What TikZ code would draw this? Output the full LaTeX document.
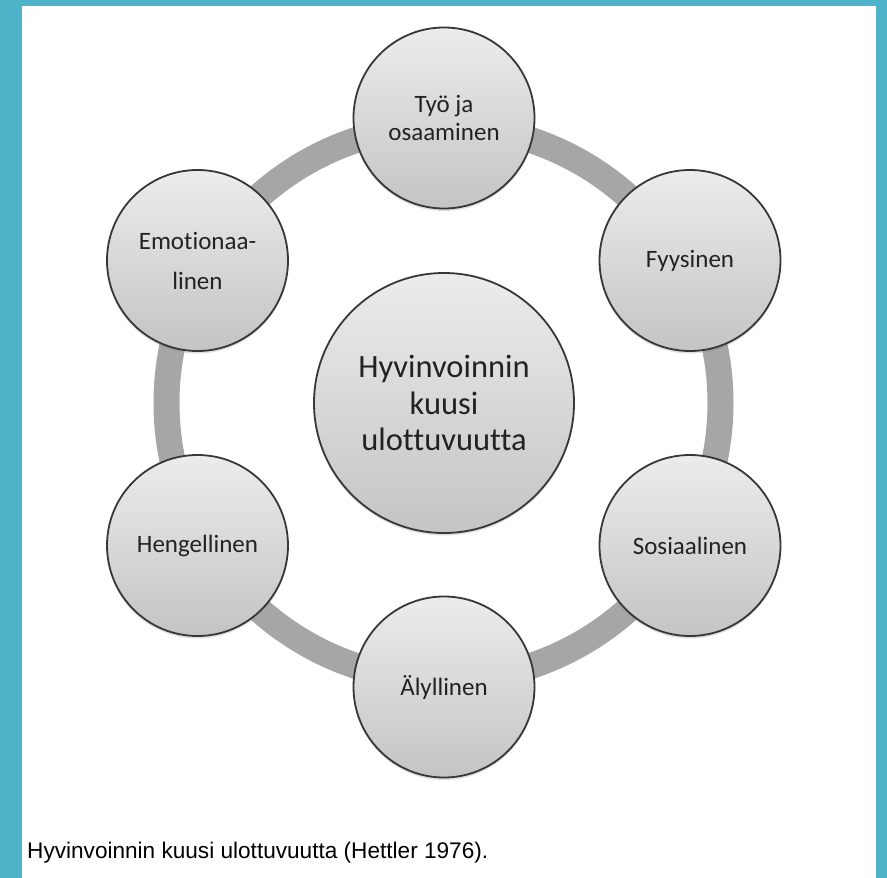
\documentclass[tikz,border=0pt]{standalone}
\usepackage{fontspec}
\setmainfont{Carlito}[Ligatures={NoCommon}]
\newfontfamily\capfont{Liberation Sans}
\usetikzlibrary{shadows}
\definecolor{framecol}{RGB}{78,179,200}
\definecolor{ringgray}{RGB}{166,166,166}
\definecolor{topg}{RGB}{236,236,236}
\definecolor{botg}{RGB}{196,196,196}
\definecolor{edgeg}{RGB}{55,55,55}
\definecolor{txt}{RGB}{34,34,34}
\tikzset{
  bubble/.style={circle, draw=edgeg, line width=1.8pt, top color=topg, bottom color=botg,
    minimum size=181pt, inner sep=0pt, align=center, text=txt,
    font=\fontsize{25}{27.5}\selectfont,
    drop shadow={opacity=0.25, shadow xshift=0pt, shadow yshift=-2.5pt}},
  hubbubble/.style={bubble, minimum size=260pt, font=\fontsize{32.5}{36.5}\selectfont},
  ringline/.style={draw=ringgray, line width=26pt},
  caption/.style={anchor=base west, inner sep=0pt, font=\capfont\fontsize{22.6}{27}\selectfont, text=black}
}
\begin{document}
\begin{tikzpicture}[x=1pt,y=-1pt]
  \useasboundingbox (0,0) rectangle (887,878);
  \fill[framecol] (0,0) rectangle (887,878);
  \fill[white] (22,6) rectangle (876,878);
  \coordinate (ringc) at (443.5,403);
  \draw[ringline] (ringc) circle (277pt);
  \node[hubbubble] (hub) at (444,403) {Hyvinvoinnin\\kuusi\\ulottuvuutta};
  \node[bubble] (tyo) at (444,118) {Työ ja\\osaaminen};
  \node[bubble] (fyy) at (690,260.5) {Fyysinen};
  \node[bubble] (sos) at (690,545.5) {Sosiaalinen};
  \node[bubble] (aly) at (444,687) {Älyllinen};
  \node[bubble] (hen) at (197.5,545.5) {Hengellinen};
  \node[bubble, font=\fontsize{25}{40}\selectfont] (emo) at (197.5,260.5) {Emotionaa-\\linen};
  \node[caption] (cap) at (27,858) {Hyvinvoinnin kuusi ulottuvuutta (Hettler 1976).};
\end{tikzpicture}
\end{document}
